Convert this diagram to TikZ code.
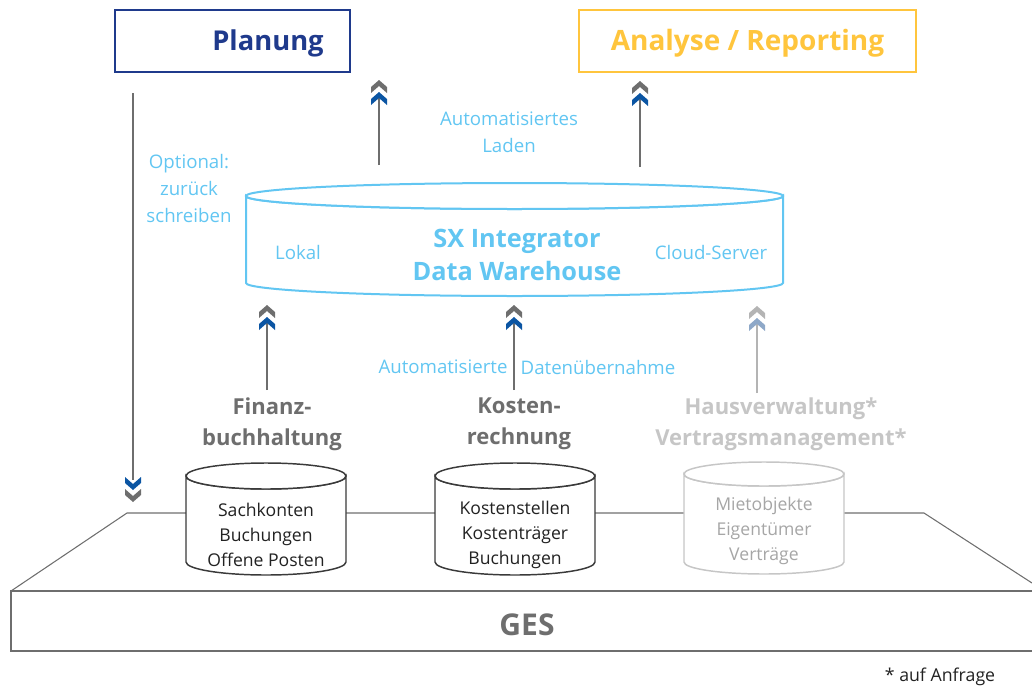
\documentclass[tikz,border=0pt]{standalone}
\usepackage{fontspec}
\setmainfont{Open Sans}
\definecolor{navy}{HTML}{1F3A8C}
\definecolor{gold}{HTML}{FFC53D}
\definecolor{sky}{HTML}{62C6F2}
\definecolor{dgray}{HTML}{6E6E6E}
\definecolor{lgray}{HTML}{C6C6C6}
\definecolor{cblue}{HTML}{0B55A3}
\definecolor{pblue}{HTML}{8EA8C8}
\definecolor{pgray}{HTML}{B4B4B4}
\definecolor{cylc}{HTML}{3A3A3A}
\definecolor{ltext}{HTML}{A6A6A6}
\definecolor{ink}{HTML}{222222}
\newcommand\CylOutline[6]{%
  \filldraw[#6,fill=white] (#1-#4,#2) -- (#1-#4,#3)
    arc[start angle=180,end angle=0,x radius=#4,y radius=#5]
    -- (#1+#4,#2) arc[start angle=0,end angle=180,x radius=#4,y radius=#5] -- cycle;
  \filldraw[#6,fill=white] (#1,#2) ellipse[x radius=#4,y radius=#5];}
\begin{document}
\begin{tikzpicture}[x=0.75pt,y=-0.75pt,
  light/.style={font=\fontsize{14}{20.25}\selectfont,text=sky,align=center,inner sep=0pt},
  head/.style={font=\bfseries\fontsize{16.5}{23.25}\selectfont,align=center,inner sep=0pt},
  cyltext/.style={font=\fontsize{13.2}{18.75}\selectfont,align=center,inner sep=0pt},
  conn/.style={draw=dgray,line width=1.5pt},
  palecon/.style={draw=pgray,line width=1.5pt},
  topbox/.style={draw,line width=1.5pt,minimum width=176.25pt,minimum height=46.5pt,inner sep=0pt},
  plat/.style={draw=dgray,line width=0.8pt},
  chevup/.pic={\fill[pic actions] (0,0) -- (8,7) -- (8,13) -- (0,6) -- (-8,13) -- (-8,7) -- cycle;},
  chevdown/.pic={\fill[pic actions] (0,0) -- (8,-7) -- (8,-13) -- (0,-6) -- (-8,-13) -- (-8,-7) -- cycle;}
]
\useasboundingbox (0,0) rectangle (1032,686);

% platform
\draw[plat] (11,591) -- (127,513) -- (924,513) -- (1032,583);
\draw[draw=dgray,line width=1.5pt] (11,591) rectangle (1045,651);
\node[font=\bfseries\fontsize{22.5}{26}\selectfont,text=dgray,inner sep=0pt] (ges) at (527,625) {GES};

% top boxes
\node[topbox,draw=navy] (planung) at (232.5,41) {};
\node[font=\bfseries\fontsize{20.5}{25}\selectfont,text=navy,inner sep=0pt] (planungtxt) at (268,43) {Planung};
\node[topbox,draw=gold,minimum width=252.75pt] (analyse) at (747.5,41) {};
\node[font=\bfseries\fontsize{21}{25}\selectfont,text=gold,inner sep=0pt] (analysetxt) at (747.5,43) {Analyse / Reporting};

% data warehouse cylinder
\CylOutline{514.5}{196}{283}{268.5}{13}{draw=sky,line width=1.5pt}
\node[inner sep=0pt,minimum width=402pt,minimum height=70pt] (dw) at (514.5,240) {};
\node[font=\bfseries\fontsize{19}{25}\selectfont,text=sky,align=center,inner sep=0pt] (dwtxt) at (517,255) {SX Integrator\\Data Warehouse};
\node[light] (lokal) at (298,252) {Lokal};
\node[light] (cloud) at (711,252) {Cloud-Server};

% labels
\node[light] (optional) at (189,188) {Optional:\\zurück\\schreiben};
\node[light] (laden) at (509,132) {Automatisiertes\\Laden};
\node[light] (auto1) at (443,367) {Automatisierte};
\node[light] (auto2) at (598,367) {Datenübernahme};

\node[head,text=dgray] (fibu) at (272,424) {Finanz-\\buchhaltung};
\node[head,text=dgray] (kore) at (519,424) {Kosten-\\rechnung};
\node[head,text=lgray] (haus) at (781,424) {Hausverwaltung*\\Vertragsmanagement*};

% source cylinders
\CylOutline{266}{476}{562}{80}{13}{draw=cylc,line width=1.1pt}
\CylOutline{515}{476}{562}{80}{13}{draw=cylc,line width=1.1pt}
\CylOutline{764}{474}{562}{80}{12}{draw=lgray,line width=1.1pt}
\node[cyltext,text=ink] (fibucyl) at (266,535) {Sachkonten\\Buchungen\\Offene Posten};
\node[cyltext,text=ink] (korecyl) at (515,535) {Kostenstellen\\Kostenträger\\Buchungen};
\node[cyltext,text=ltext] (hauscyl) at (764,531) {Mietobjekte\\Eigentümer\\Verträge};

\node[font=\fontsize{13.3}{15}\selectfont,text=ink,inner sep=0pt] (anfrage) at (940,677) {* auf Anfrage};

% connectors with chevrons
\coordinate (p1s) at (379,165); \coordinate (p1e) at (379,95);
\coordinate (p2s) at (640,167); \coordinate (p2e) at (640,96);
\coordinate (p3s) at (267,390); \coordinate (p3e) at (267,320);
\coordinate (p4s) at (514,390); \coordinate (p4e) at (514,320);
\coordinate (p5s) at (757,393); \coordinate (p5e) at (757,321);
\coordinate (p6s) at (133,93);  \coordinate (p6e) at (133,480);
\draw[conn] (p1s) -- (p1e);
\draw[conn] (p2s) -- (p2e);
\draw[conn] (p3s) -- (p3e);
\draw[conn] (p4s) -- (p4e);
\draw[palecon] (p5s) -- (p5e);
\draw[conn] (p6s) -- (p6e);
\pic[fill=dgray] at (379,80) {chevup};  \pic[fill=cblue] at (379,92) {chevup};
\pic[fill=dgray] at (640,81) {chevup};  \pic[fill=cblue] at (640,93) {chevup};
\pic[fill=dgray] at (267,305) {chevup}; \pic[fill=cblue] at (267,317) {chevup};
\pic[fill=dgray] at (514,305) {chevup}; \pic[fill=cblue] at (514,317) {chevup};
\pic[fill=pgray] at (757,306) {chevup}; \pic[fill=pblue] at (757,318) {chevup};
\pic[fill=cblue] at (133,490) {chevdown}; \pic[fill=dgray] at (133,502) {chevdown};
\end{tikzpicture}
\end{document}
